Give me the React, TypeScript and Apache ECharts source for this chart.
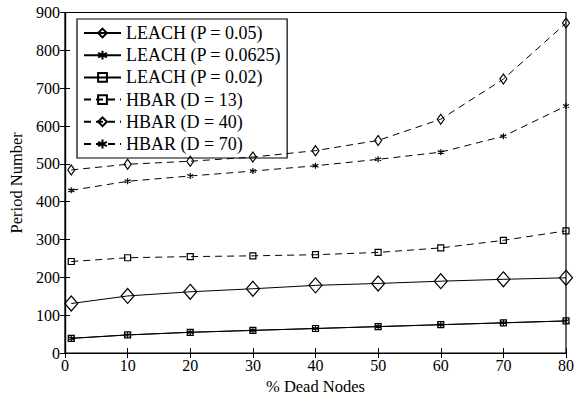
import React, { useEffect, useRef } from "react";
import * as echarts from "echarts";

const xValues = [1, 10, 20, 30, 40, 50, 60, 70, 80];
const leach005 = [131, 151, 162, 170, 179, 184, 190, 195, 199];
const leach00625 = [39, 48, 55, 60, 65, 70, 75, 80, 85];
const leach002 = [39, 48, 55, 60, 65, 70, 75, 80, 85];
const hbar13 = [242, 252, 255, 257, 260, 266, 278, 298, 323];
const hbar40 = [484, 499, 507, 518, 535, 562, 618, 724, 872];
const hbar70 = [430, 454, 468, 481, 495, 512, 531, 573, 653];
const seriesNames = [
  "LEACH (P = 0.05)",
  "LEACH (P = 0.0625)",
  "LEACH (P = 0.02)",
  "HBAR (D = 13)",
  "HBAR (D = 40)",
  "HBAR (D = 70)",
];

const FONT = "'Liberation Serif', 'Times New Roman', serif";
const STAR = "path://M5,0L5,10M0.67,2.5L9.33,7.5M0.67,7.5L9.33,2.5";

function pairs(ys: number[]) {
  return xValues.map((x, i) => [x, ys[i]]);
}

export default function App() {
  const ref = useRef<HTMLDivElement>(null);
  useEffect(() => {
    if (!ref.current) return;
    const chart = echarts.init(ref.current, undefined, { renderer: "svg" });
    const mk = (
      name: string,
      data: number[],
      symbol: string,
      symbolSize: number | number[],
      dashed: boolean,
      z: number
    ) => ({
      name,
      type: "line",
      data: pairs(data),
      symbol,
      symbolSize,
      showAllSymbol: true,
      z,
      lineStyle: {
        color: "#000",
        width: 1,
        type: dashed ? [7, 5] : "solid",
      },
      itemStyle: {
        color: "rgba(255,255,255,0)",
        borderColor: "#000",
        borderWidth: 1.2,
      },
      emphasis: { disabled: true },
    });
    const axisCommon = {
      axisLine: { show: true, lineStyle: { color: "#000", width: 1.2 } },
      axisTick: { show: true, inside: true, length: 5, lineStyle: { color: "#000" } },
      splitLine: { show: false },
    };
    chart.setOption({
      animation: false,
      backgroundColor: "#fff",
      grid: {
        left: 65,
        right: 20,
        top: 12.5,
        bottom: 36,
        show: true,
        borderColor: "#000",
        borderWidth: 1.2,
      },
      legend: {
        orient: "vertical",
        left: 77,
        top: 19,
        padding: [5, 6, 5, 6],
        itemWidth: 37,
        itemHeight: 11,
        itemGap: 4.2,
        backgroundColor: "#fff",
        borderColor: "#000",
        borderWidth: 1.2,
        borderRadius: 0,
        textStyle: { fontFamily: FONT, fontSize: 18, color: "#000" },
        data: seriesNames,
      },
      xAxis: [
        {
          type: "value",
          min: 0,
          max: 80,
          interval: 10,
          position: "bottom",
          name: "% Dead Nodes",
          nameLocation: "middle",
          nameGap: 19,
          nameTextStyle: { fontFamily: FONT, fontSize: 16.5, color: "#000" },
          axisLabel: { fontFamily: FONT, fontSize: 16, color: "#000", margin: 4 },
          ...axisCommon,
        },
        {
          type: "value",
          min: 0,
          max: 80,
          interval: 10,
          position: "top",
          axisLabel: { show: false },
          ...axisCommon,
        },
      ],
      yAxis: [
        {
          type: "value",
          min: 0,
          max: 900,
          interval: 100,
          position: "left",
          name: "Period Number",
          nameLocation: "middle",
          nameGap: 35,
          nameTextStyle: { fontFamily: FONT, fontSize: 16.5, color: "#000" },
          axisLabel: { fontFamily: FONT, fontSize: 16, color: "#000", margin: 5 },
          ...axisCommon,
        },
        {
          type: "value",
          min: 0,
          max: 900,
          interval: 100,
          position: "right",
          axisLabel: { show: false },
          ...axisCommon,
        },
      ],
      series: [
        mk(seriesNames[0], leach005, "diamond", [13, 15], false, 3),
        mk(seriesNames[1], leach00625, STAR, 6, false, 4),
        mk(seriesNames[2], leach002, "rect", 6, false, 5),
        mk(seriesNames[3], hbar13, "rect", 6, true, 6),
        mk(seriesNames[4], hbar40, "diamond", [7, 10], true, 7),
        mk(seriesNames[5], hbar70, STAR, 6, true, 8),
      ],
    });
    return () => chart.dispose();
  }, []);
  return (
    <div
      ref={ref}
      style={{ position: "fixed", left: 0, top: 0, width: 586, height: 400 }}
    />
  );
}
